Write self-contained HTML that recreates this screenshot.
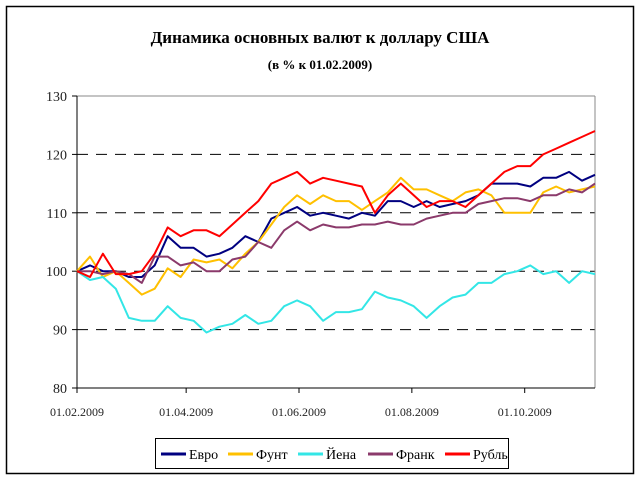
<!DOCTYPE html>
<html><head><meta charset="utf-8"><style>
body{margin:0;background:#fff}
svg{display:block;font-family:"Liberation Serif","DejaVu Serif",serif}
</style></head><body>
<svg id="chart" width="640" height="480" viewBox="0 0 640 480">
<rect x="6.5" y="6.5" width="627" height="467" fill="#fff" stroke="#000" stroke-width="1.5"/>
<text x="320" y="43" text-anchor="middle" font-size="17" font-weight="bold">Динамика основных валют к доллару США</text>
<text x="320" y="69" text-anchor="middle" font-size="13" font-weight="bold">(в % к 01.02.2009)</text>
<g id="grid"></g>
<g id="axes"></g>
<g id="series"></g>
<g>
<rect x="155.5" y="438.5" width="353" height="30" fill="#fff" stroke="#000" stroke-width="1"/>
<g id="legend-items"></g>
</g>
</svg>
<script>
const days=[0,7,14,21,28,35,42,49,56,63,70,77,84,91,98,105,112,119,126,133,140,147,154,161,168,175,182,189,196,203,210,217,224,231,238,245,252,259,266,273,280];
const euro=[100,101,100,100,99,99,101,106,104,104,102.5,103,104,106,105,109,110,111,109.5,110,109.5,109,110,109.5,112,112,111,112,111,111.5,112,113,115,115,115,114.5,116,116,117,115.5,116.5];
const pound=[100,102.5,99,100,98,96,97,100.5,99,102,101.5,102,100.5,103,105,108,111,113,111.5,113,112,112,110.5,112,113.5,116,114,114,113,112,113.5,114,113,110,110,110,113.5,114.5,113.5,114,114.5];
const yen=[100,98.5,99,97,92,91.5,91.5,94,92,91.5,89.5,90.5,91,92.5,91,91.5,94,95,94,91.5,93,93,93.5,96.5,95.5,95,94,92,94,95.5,96,98,98,99.5,100,101,99.5,100,98,100,99.5];
const franc=[100,100,99.5,100,99.5,98,102.5,102.5,101,101.5,100,100,102,102.5,105,104,107,108.5,107,108,107.5,107.5,108,108,108.5,108,108,109,109.5,110,110,111.5,112,112.5,112.5,112,113,113,114,113.5,115];
const ruble=[100,99,103,99.5,99.5,100,103,107.5,106,107,107,106,108,110,112,115,116,117,115,116,115.5,115,114.5,110,113,115,113,111,112,112,111,113,115,117,118,118,120,121,122,123,124];
const yTicks=[80,90,100,110,120,130];
const xTickDays=[0,59,120,181,242];
const xTickLabels=["01.02.2009","01.04.2009","01.06.2009","01.08.2009","01.10.2009"];
const seriesNames=["Евро","Фунт","Йена","Франк","Рубль"];
const seriesKeys=["euro","pound","yen","franc","ruble"];
const seriesColors=["#000080","#FFC000","#33E6E6","#8B3A6B","#FF0000"];
const seriesData=[euro,pound,yen,franc,ruble];

const NS="http://www.w3.org/2000/svg";
const PL=77,PR=595,PT=96,PB=388,yMin=80,yMax=130,dMax=280;
const xs=d=>PL+d*(PR-PL)/dMax;
const ys=v=>PB-(v-yMin)*(PB-PT)/(yMax-yMin);
function mk(tag,attrs,parent){const e=document.createElementNS(NS,tag);for(const k in attrs)e.setAttribute(k,attrs[k]);parent.appendChild(e);return e;}
const gridG=document.getElementById('grid'),axesG=document.getElementById('axes'),serG=document.getElementById('series'),legG=document.getElementById('legend-items');
yTicks.forEach(v=>{
  const y=ys(v);
  if(v>yMin&&v<yMax){const g=mk('line',{x1:PL,x2:PR,y1:y,y2:y,stroke:'#000','stroke-width':1,'stroke-dasharray':'11,8'},gridG);
  
  }
  const t=mk('line',{x1:PL-5,x2:PL,y1:y,y2:y,stroke:'#000'},axesG);
  
  
  const tx=mk('text',{x:PL-10,y:y+5,'text-anchor':'end','font-size':14,fill:'#222'},axesG);
  tx.textContent=v;
  
  
});
const topBorder=mk('line',{x1:PL,x2:PR,y1:PT,y2:PT,stroke:'#888'},axesG);


const rightBorder=mk('line',{x1:PR,x2:PR,y1:PT,y2:PB,stroke:'#888'},axesG);


const yAxisLine=mk('line',{x1:PL,x2:PL,y1:PT,y2:PB,stroke:'#000'},axesG);


const xAxisLine=mk('line',{x1:PL,x2:PR,y1:PB,y2:PB,stroke:'#000'},axesG);


xTickDays.forEach((d,i)=>{
  const x=xs(d);
  const t=mk('line',{x1:x,x2:x,y1:PB,y2:PB+5,stroke:'#000'},axesG);
  
  
  const tx=mk('text',{x:x,y:PB+28,'text-anchor':'middle','font-size':12,fill:'#222'},axesG);
  tx.textContent=xTickLabels[i];
  
  
});
seriesData.forEach((arr,i)=>{
  const pts=arr.map((v,j)=>xs(days[j]).toFixed(1)+','+ys(v).toFixed(1)).join(' ');
  const p=mk('polyline',{points:pts,fill:'none',stroke:seriesColors[i],'stroke-width':2,'stroke-linejoin':'round'},serG);
  
  
});
const legX=[161,228,298,368,445];
seriesNames.forEach((n,i)=>{
  const x=legX[i];
  const l=mk('line',{x1:x,x2:x+25,y1:454,y2:454,stroke:seriesColors[i],'stroke-width':3},legG);
  
  
  const t=mk('text',{x:x+28,y:459,'font-size':14,fill:'#000'},legG);
  t.textContent=n;
  
  
});
</script>
</body></html>
